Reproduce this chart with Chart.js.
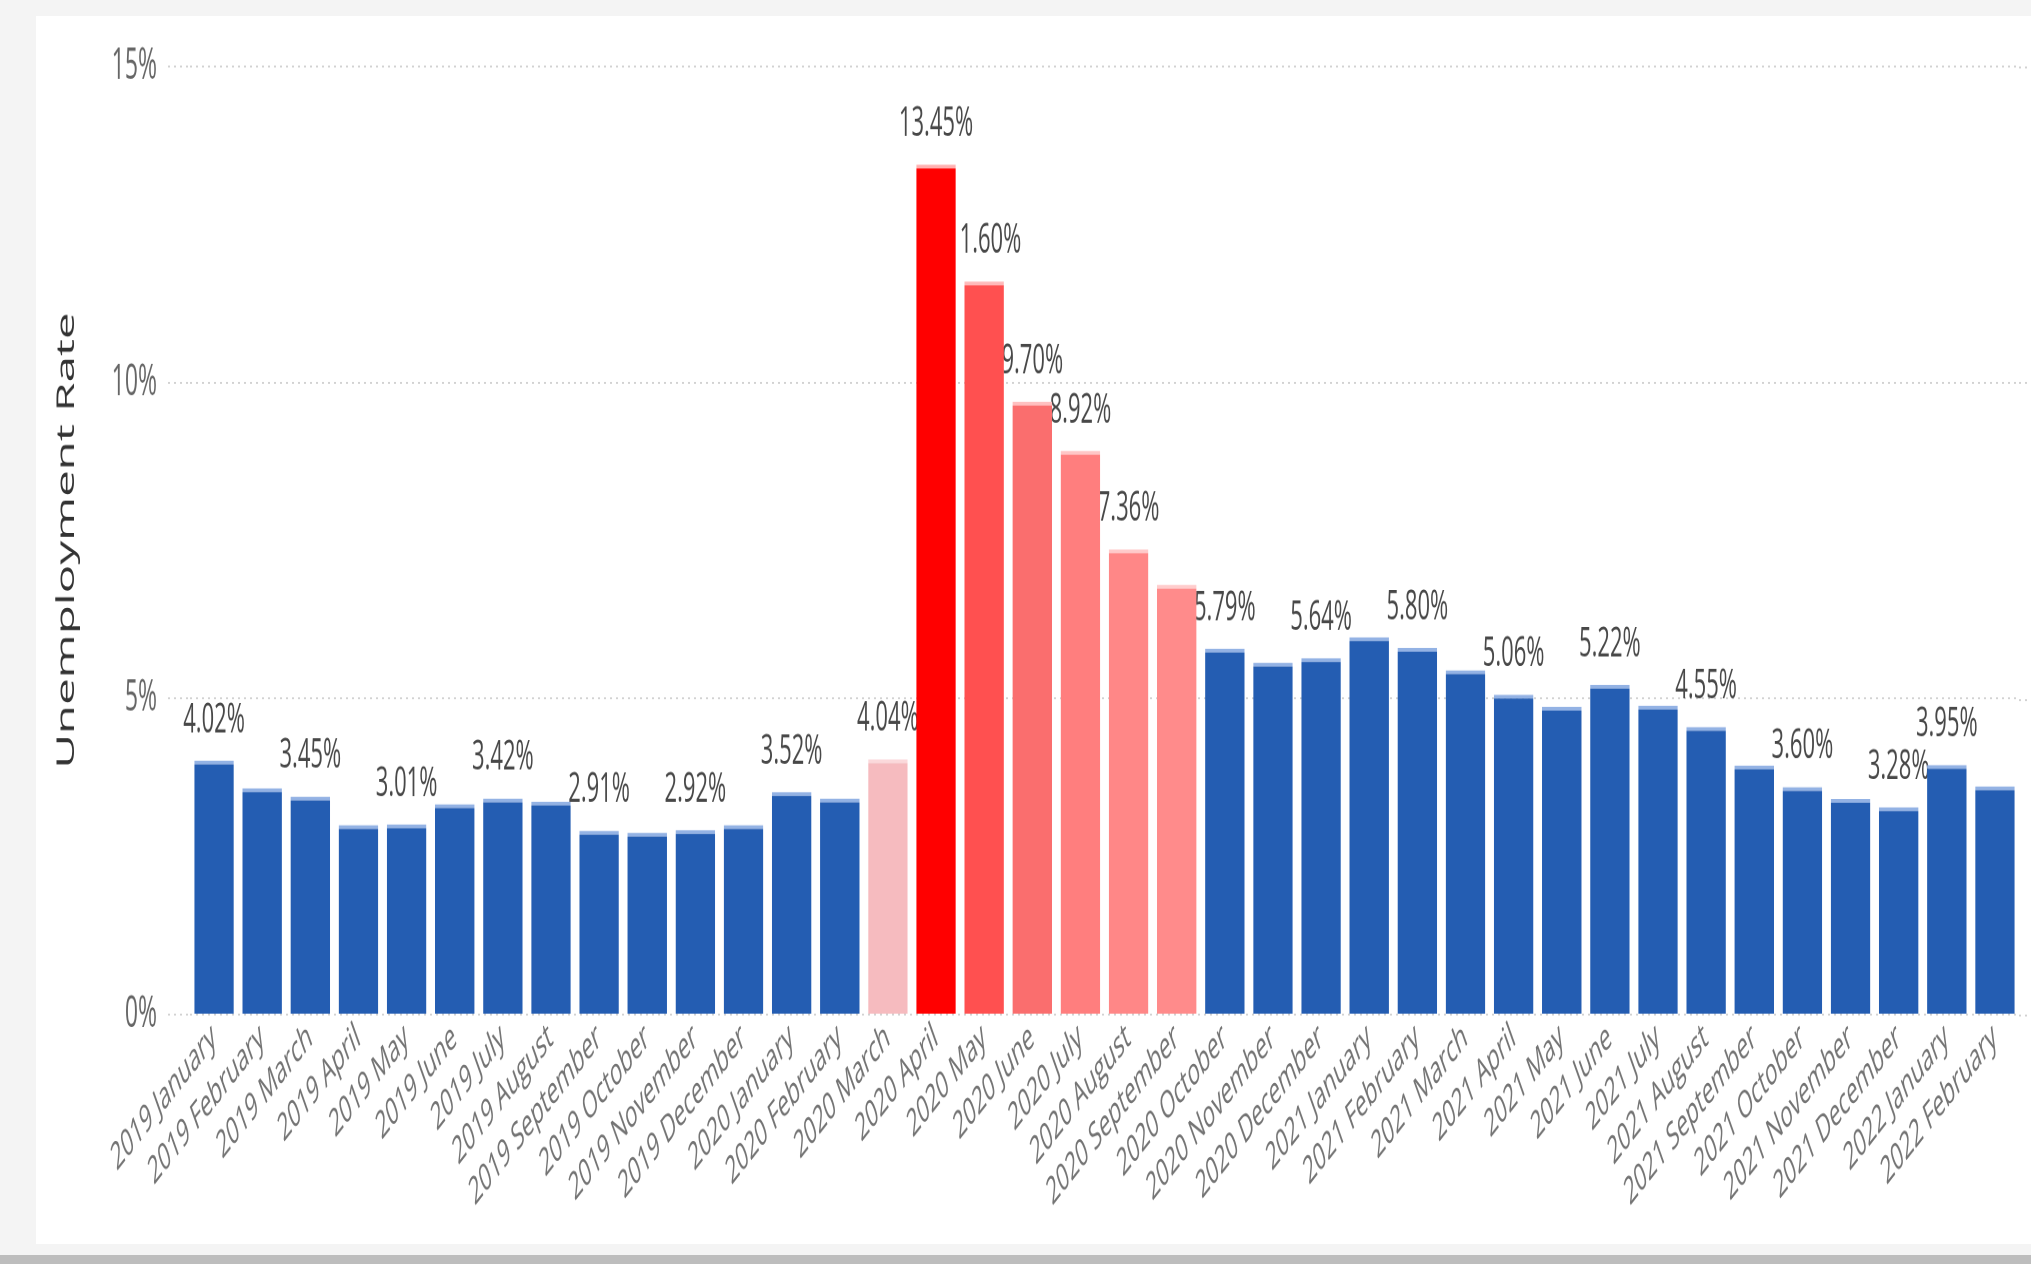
<!DOCTYPE html>
<html>
<head>
<meta charset="utf-8">
<script src="https://cdn.jsdelivr.net/npm/chart.js@4.4.1/dist/chart.umd.min.js"></script>
<style>
html,body{margin:0;padding:0;width:2031px;height:1264px;overflow:hidden;background:#f4f4f4;}
#card{position:absolute;left:36px;top:16px;width:2000px;height:1228px;background:#ffffff;}
#shadow{position:absolute;left:0;top:1255px;width:2031px;height:9px;background:#bdbdbd;}
#wrap{position:absolute;left:0;top:0;width:2031px;height:665px;transform:scaleY(1.9);transform-origin:0 0;}
canvas{display:block;}
</style>
</head>
<body>
<div id="card"></div>
<div id="shadow"></div>
<div id="wrap"><canvas id="c" width="2031" height="665" style="width:2031px;height:665px"></canvas></div>
<script>
// ---- data ----
const categories = [
  '2019 January','2019 February','2019 March','2019 April','2019 May','2019 June',
  '2019 July','2019 August','2019 September','2019 October','2019 November','2019 December',
  '2020 January','2020 February','2020 March','2020 April','2020 May','2020 June',
  '2020 July','2020 August','2020 September','2020 October','2020 November','2020 December',
  '2021 January','2021 February','2021 March','2021 April','2021 May','2021 June',
  '2021 July','2021 August','2021 September','2021 October','2021 November','2021 December',
  '2022 January','2022 February'
];
const unemploymentRate = [
  4.02, 3.58, 3.45, 3.00, 3.01, 3.33,
  3.42, 3.37, 2.91, 2.88, 2.92, 3.00,
  3.52, 3.42, 4.04, 13.45, 11.60, 9.70,
  8.92, 7.36, 6.80, 5.79, 5.57, 5.64,
  5.97, 5.80, 5.45, 5.06, 4.87, 5.22,
  4.89, 4.55, 3.94, 3.60, 3.41, 3.28,
  3.95, 3.61
];
const labelledMonths = [
  '2019 January','2019 March','2019 May','2019 July','2019 September','2019 November',
  '2020 January','2020 March','2020 April','2020 May','2020 June','2020 July','2020 August',
  '2020 October','2020 December','2021 February','2021 April','2021 June','2021 August',
  '2021 October','2021 December','2022 January'
];
const yTickValues = [0, 5, 10, 15];
const yAxisTitle = 'Unemployment Rate';

// ---- styles ----
const baseColor = '#245DB2';
const baseEdge = '#93b2e4';
const highlightColors = {
  '2020 March':     ['#F6BBBF', '#fbd9db'],
  '2020 April':     ['#FF0000', '#ffb0b0'],
  '2020 May':       ['#FF5050', '#ffb8b8'],
  '2020 June':      ['#FA6E6E', '#ffc0c0'],
  '2020 July':      ['#FF7E7E', '#ffc6c6'],
  '2020 August':    ['#FF8787', '#ffcaca'],
  '2020 September': ['#FF8B8B', '#ffcccc']
};
const gridColor = '#d2d2d2';
const gridDash = [2, 4];
const FONT = '"Open Sans", "Noto Sans", sans-serif';
Chart.defaults.font.family = FONT;

const fillColors = categories.map(c => highlightColors[c] ? highlightColors[c][0] : baseColor);
const edgeColors = categories.map(c => highlightColors[c] ? highlightColors[c][1] : baseEdge);

const valueLabels = {
  id: 'valueLabels',
  beforeDatasetsDraw(chart) {
    const ctx = chart.ctx;
    const ys = chart.scales.y;
    const area = chart.chartArea;
    ctx.save();
    ctx.strokeStyle = gridColor;
    ctx.lineWidth = 1;
    ctx.setLineDash(gridDash);
    ys.ticks.forEach(t => {
      const y = Math.round(ys.getPixelForValue(t.value)) + 0.5;
      ctx.beginPath();
      ctx.moveTo(area.right, y);
      ctx.lineTo(chart.width, y);
      ctx.stroke();
    });
    ctx.setLineDash([]);
    ctx.font = '22px ' + FONT;
    ctx.fillStyle = '#484848';
    ctx.textAlign = 'center';
    ctx.textBaseline = 'alphabetic';
    const meta = chart.getDatasetMeta(0);
    meta.data.forEach((bar, i) => {
      if (!labelledMonths.includes(categories[i])) return;
      ctx.fillText(unemploymentRate[i].toFixed(2) + '%', bar.x, bar.y - 15);
    });
    ctx.restore();
  }
};

new Chart(document.getElementById('c'), {
  type: 'bar',
  data: {
    labels: categories,
    datasets: [{
      data: unemploymentRate,
      backgroundColor: fillColors,
      borderColor: edgeColors,
      borderWidth: {top: 2, left: 0, right: 0, bottom: 0},
      borderSkipped: 'start',
      barPercentage: 0.82,
      categoryPercentage: 1.0
    }]
  },
  options: {
    responsive: false,
    animation: false,
    devicePixelRatio: 2,
    layout: {padding: {left: 52, right: 12, top: 35, bottom: 0}},
    plugins: {legend: {display: false}, tooltip: {enabled: false}},
    scales: {
      x: {
        type: 'category',
        offset: true,
        grid: {display: false},
        border: {display: false},
        ticks: {
          autoSkip: false,
          minRotation: 34,
          maxRotation: 34,
          padding: -8,
          color: '#747474',
          font: {size: 20}
        },
        afterFit(s) { s.height = 131; }
      },
      y: {
        min: 0,
        max: 15,
        afterBuildTicks(s) { s.ticks = yTickValues.map(v => ({value: v})); },
        border: {display: false, dash: gridDash},
        grid: {
          color: gridColor,
          lineWidth: 1,
          tickLength: 22,
          tickColor: gridColor,
          tickBorderDash: gridDash
        },
        ticks: {
          padding: 11,
          color: '#666666',
          font: {size: 23},
          callback: v => v + '%'
        },
        title: {
          display: true,
          text: yAxisTitle,
          color: '#333333',
          font: {size: 25},
          padding: {top: 0, bottom: 0}
        },
        afterFit(s) { s.width = 138; }
      }
    }
  },
  plugins: [valueLabels]
});
</script>
</body>
</html>
